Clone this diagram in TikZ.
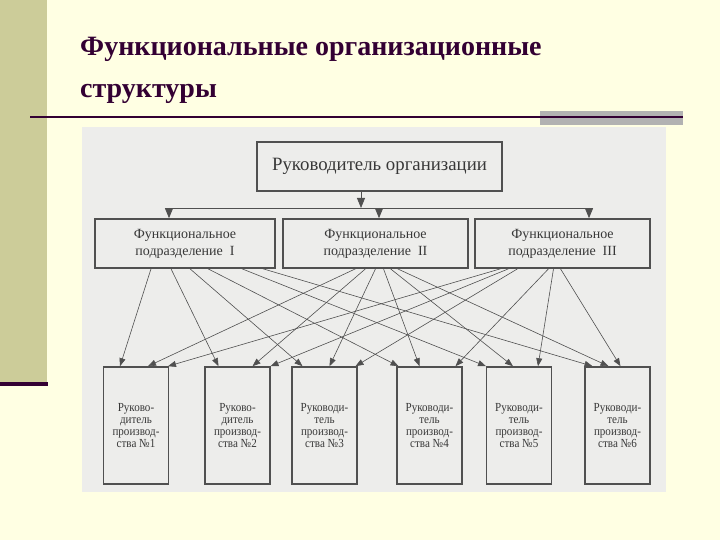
\documentclass[tikz,border=0pt]{standalone}
\usepackage{fontspec}
\setmainfont{Liberation Serif}
\newfontfamily\scanfont[FakeStretch=0.9]{Liberation Serif}
\usetikzlibrary{arrows.meta}

\definecolor{slidebg}{RGB}{255,255,227}
\definecolor{khaki}{RGB}{204,204,153}
\definecolor{maroon}{RGB}{51,0,51}
\definecolor{graybar}{RGB}{178,178,178}
\definecolor{scanbg}{RGB}{237,237,235}
\definecolor{boxgray}{RGB}{80,80,80}
\definecolor{inkgray}{RGB}{56,56,56}

\begin{document}
\begin{tikzpicture}[x=1pt,y=-1pt,
    box/.style={draw=boxgray,line width=1.6pt,inner sep=0pt,align=center,text=inkgray},
    topbox/.style={box,minimum width=245pt,minimum height=49pt,font=\fontsize{18.8}{21}\selectfont},
    funcbox/.style={box,minimum height=49pt,font=\fontsize{14}{17}\selectfont},
    prodbox/.style={box,minimum width=65pt,minimum height=117pt,font=\scanfont\fontsize{12.3}{11.8}\selectfont},
    arr/.style={draw=boxgray,line width=0.6pt,-{Triangle[length=8pt,width=6pt]}},
    bigarr/.style={draw=boxgray,line width=0.8pt,-{Triangle[length=10pt,width=8pt]}},
    title/.style={anchor=base west,inner sep=0pt,text=maroon,font=\bfseries\fontsize{28}{30}\selectfont}]
        \useasboundingbox (0,0) rectangle (720,540);
        \fill[slidebg] (0,0) rectangle (720,540);
        \fill[khaki] (0,0) rectangle (47,382);
        \fill[maroon] (0,382) rectangle (48,386);
        \fill[graybar] (540,111) rectangle (683,125);
        \draw[maroon,line width=1.8pt] (30,117) -- (683,117);
        \fill[scanbg] (82,127) rectangle (666,492);

        \node at (80,56) [title] (t1) {Функциональные организационные};
        \node at (80,98) [title] (t2) {структуры};

        \node at (379.5,166.5) [topbox] (org) {Руководитель организации};

        \node at (185,243.5) [funcbox,minimum width=180pt] (f1) {Функциональное\\подразделение\enspace I};
        \node at (375.5,243.5) [funcbox,minimum width=185pt] (f2) {Функциональное\\подразделение\enspace II};
        \node at (562.5,243.5) [funcbox,minimum width=175pt] (f3) {Функциональное\\подразделение\enspace III};

        \node at (136,425.5) [prodbox] (p1) {Руково-\\дитель\\производ-\\ства №1};
        \node at (237.5,425.5) [prodbox] (p2) {Руково-\\дитель\\производ-\\ства №2};
        \node at (324.5,425.5) [prodbox] (p3) {Руководи-\\тель\\производ-\\ства №3};
        \node at (429.5,425.5) [prodbox] (p4) {Руководи-\\тель\\производ-\\ства №4};
        \node at (519,425.5) [prodbox] (p5) {Руководи-\\тель\\производ-\\ства №5};
        \node at (617.5,425.5) [prodbox] (p6) {Руководи-\\тель\\производ-\\ства №6};

        % distribution line under the head
        \coordinate (busL) at (169,208);
        \coordinate (busT) at (361,208);
        \coordinate (busM) at (379,208);
        \coordinate (busR) at (589,208);
        \draw[bigarr] (org.south -| busT) -- (busT);
        \draw[boxgray,line width=0.8pt] (busL) -- (busR);
        \draw[bigarr] (busL) -- (busL |- f1.north);
        \draw[bigarr] (busM) -- (busM |- f2.north);
        \draw[bigarr] (busR) -- (busR |- f3.north);

        % functional units to production heads
        \draw[arr] ([xshift=-34pt]f1.south) -- ([xshift=-16pt]p1.north);
        \draw[arr] ([xshift=-14pt]f1.south) -- ([xshift=-19pt]p2.north);
        \draw[arr] ([xshift=5pt]f1.south) -- ([xshift=-22pt]p3.north);
        \draw[arr] ([xshift=23pt]f1.south) -- ([xshift=-31pt]p4.north);
        \draw[arr] ([xshift=57pt]f1.south) -- ([xshift=-33pt]p5.north);
        \draw[arr] ([xshift=78pt]f1.south) -- ([xshift=-25pt]p6.north);

        \draw[arr] ([xshift=-20pt]f2.south) -- ([xshift=12pt]p1.north);
        \draw[arr] ([xshift=-10pt]f2.south) -- ([xshift=15pt]p2.north);
        \draw[arr] ([xshift=0pt]f2.south) -- ([xshift=5pt]p3.north);
        \draw[arr] ([xshift=8pt]f2.south) -- ([xshift=-10pt]p4.north);
        \draw[arr] ([xshift=15pt]f2.south) -- ([xshift=-6pt]p5.north);
        \draw[arr] ([xshift=22pt]f2.south) -- ([xshift=-9pt]p6.north);

        \draw[arr] ([xshift=-62pt]f3.south) -- ([xshift=32pt]p1.north);
        \draw[arr] ([xshift=-54pt]f3.south) -- ([xshift=33pt]p2.north);
        \draw[arr] ([xshift=-45pt]f3.south) -- ([xshift=31pt]p3.north);
        \draw[arr] ([xshift=-14pt]f3.south) -- ([xshift=26pt]p4.north);
        \draw[arr] ([xshift=-9pt]f3.south) -- ([xshift=19pt]p5.north);
        \draw[arr] ([xshift=-2pt]f3.south) -- ([xshift=3pt]p6.north);
\end{tikzpicture}
\end{document}
